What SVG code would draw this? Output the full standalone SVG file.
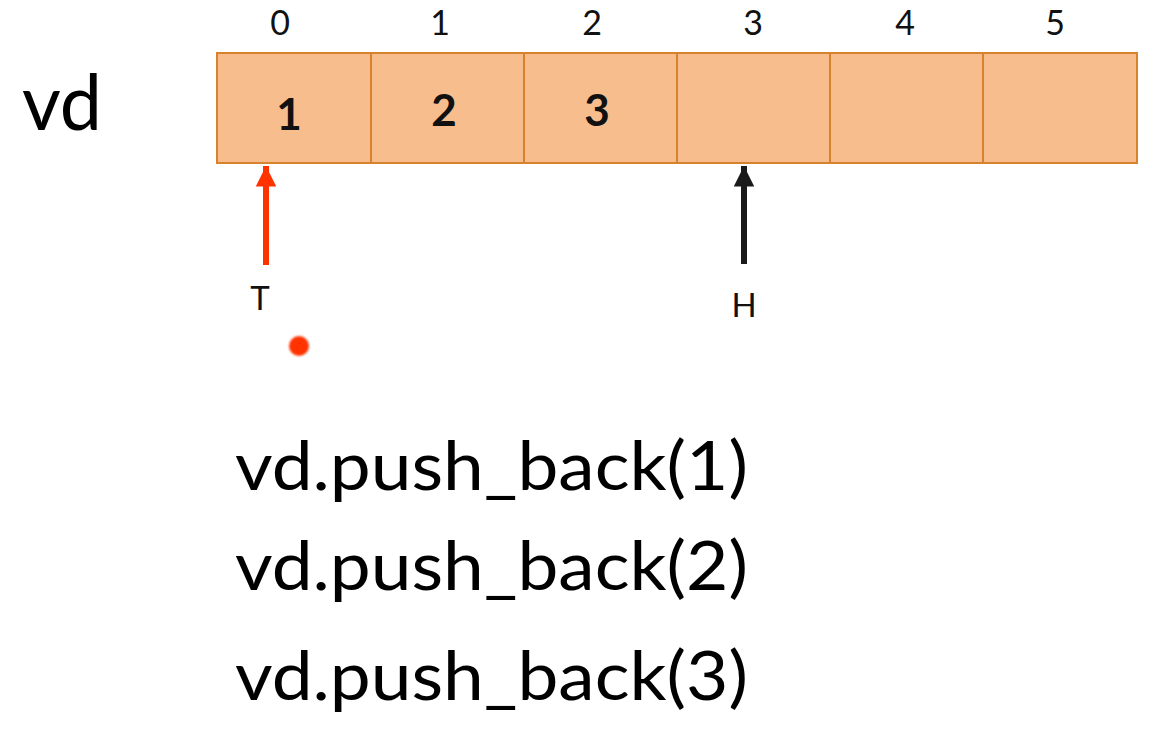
<svg xmlns="http://www.w3.org/2000/svg" width="1168" height="754" viewBox="0 0 1168 754">
  <style>
    .cell { fill: #F8BD8D; stroke: #D9822E; stroke-width: 2; }
    .idx { font-family: "Lato", "Open Sans", sans-serif; font-size: 34px; fill: #111; text-anchor: middle; }
    .val { font-family: "Lato", "Open Sans", sans-serif; font-size: 44px; font-weight: bold; fill: #111; text-anchor: middle; }
    .ptr { font-family: "Lato", "Open Sans", sans-serif; font-size: 33px; fill: #111; text-anchor: middle; }
    .big { font-family: "Lato", "Open Sans", sans-serif; font-size: 68px; fill: #000; }
  </style>
  <defs>
    <marker id="headRed" viewBox="0 0 10 10" refX="10" refY="5" markerWidth="3.6" markerHeight="3.4" orient="auto" markerUnits="strokeWidth">
      <path d="M0,0 L10,5 L0,10 z" fill="#FF3300"/>
    </marker>
    <marker id="headBlack" viewBox="0 0 10 10" refX="10" refY="5" markerWidth="3.6" markerHeight="3.4" orient="auto" markerUnits="strokeWidth">
      <path d="M0,0 L10,5 L0,10 z" fill="#1a1a1a"/>
    </marker>
    <filter id="soft" x="-50%" y="-50%" width="200%" height="200%">
      <feGaussianBlur stdDeviation="0.8"/>
    </filter>
  </defs>

  <rect width="1168" height="754" fill="#fff"/>

  <!-- array name -->
  <text class="big" x="22" y="130" style="font-size:78px" textLength="80" lengthAdjust="spacingAndGlyphs">vd</text>

  <!-- index labels -->
  <g id="indices">
    <text class="idx" x="280" y="35">0</text>
    <text class="idx" x="440" y="35">1</text>
    <text class="idx" x="592" y="35">2</text>
    <text class="idx" x="753" y="35">3</text>
    <text class="idx" x="905" y="35">4</text>
    <text class="idx" x="1055" y="35">5</text>
  </g>

  <!-- array cells -->
  <g id="cell0"><rect class="cell" x="217" y="53" width="154" height="110"/><text class="val" x="289" y="130">1</text></g>
  <g id="cell1"><rect class="cell" x="371" y="53" width="153" height="110"/><text class="val" x="444" y="126">2</text></g>
  <g id="cell2"><rect class="cell" x="524" y="53" width="153" height="110"/><text class="val" x="597" y="126">3</text></g>
  <g id="cell3"><rect class="cell" x="677" y="53" width="153" height="110"/></g>
  <g id="cell4"><rect class="cell" x="830" y="53" width="153" height="110"/></g>
  <g id="cell5"><rect class="cell" x="983" y="53" width="154" height="110"/></g>

  <!-- pointers -->
  <g id="connectors">
    <line x1="266" y1="265" x2="266" y2="166" stroke="#FF3300" stroke-width="6" marker-end="url(#headRed)"/>
    <line x1="744" y1="264" x2="744" y2="166" stroke="#1a1a1a" stroke-width="6" marker-end="url(#headBlack)"/>
  </g>
  <g id="tail"><text class="ptr" x="260" y="310">T</text></g>
  <g id="head"><text class="ptr" x="744" y="317">H</text></g>

  <!-- cursor dot -->
  <g id="dot" filter="url(#soft)">
    <circle cx="299" cy="346" r="10" fill="#FF3300"/>
  </g>

  <!-- operations -->
  <g id="ops">
    <text class="big" x="235" y="490" textLength="513" lengthAdjust="spacingAndGlyphs">vd.push_back(1)</text>
    <text class="big" x="235" y="590" textLength="513" lengthAdjust="spacingAndGlyphs">vd.push_back(2)</text>
    <text class="big" x="235" y="700" textLength="513" lengthAdjust="spacingAndGlyphs">vd.push_back(3)</text>
  </g>
</svg>
